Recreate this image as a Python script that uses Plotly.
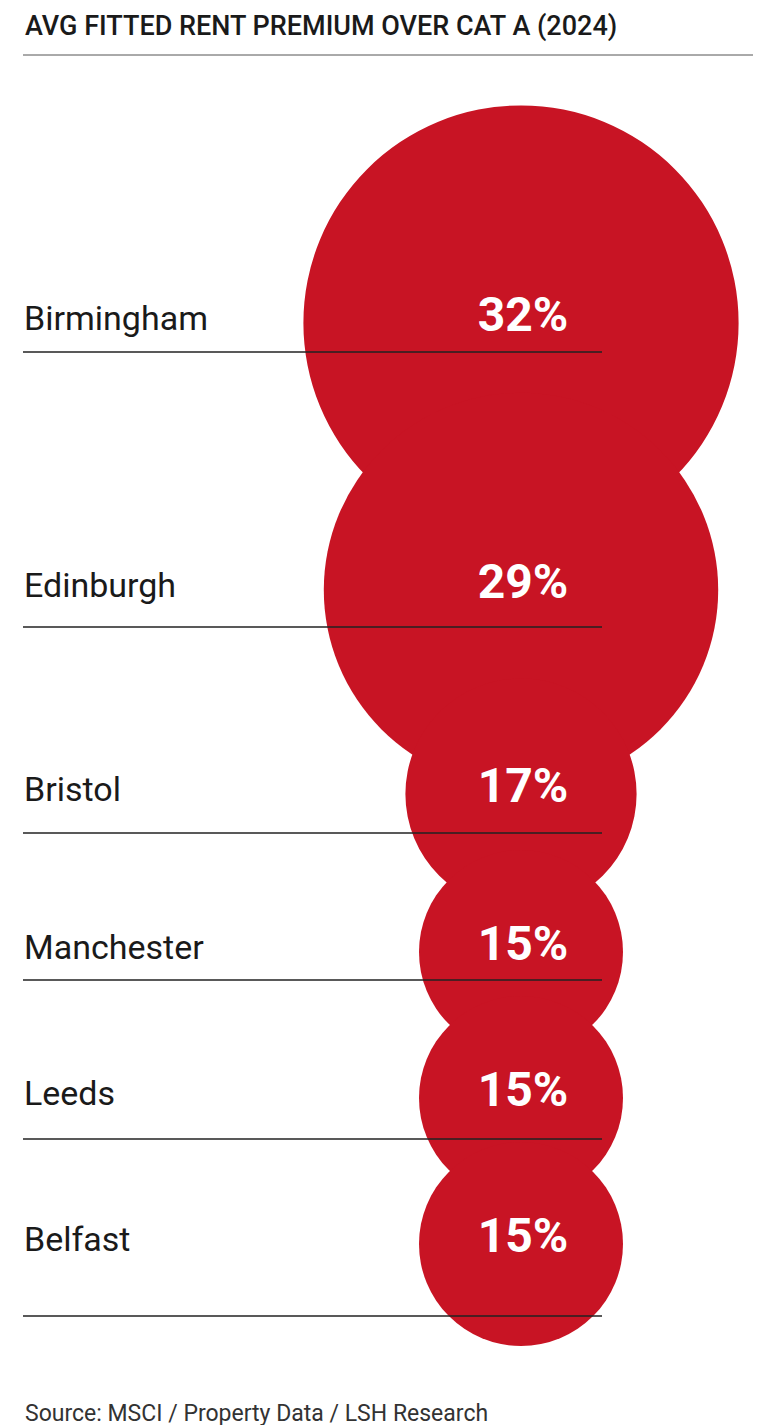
import plotly.graph_objects as go

cities = ["Birmingham", "Edinburgh", "Bristol", "Manchester", "Leeds", "Belfast"]
premium = [32, 29, 17, 15, 15, 15]
labels = ["32%", "29%", "17%", "15%", "15%", "15%"]

W, H = 761, 1425
cx = 513
centers = [315, 582, 786, 944, 1090, 1236]
line_y = [344, 619, 825, 972, 1131, 1308]
k = 6.8
red = "#C81424"

fig = go.Figure()
shapes = []
for v, cy in zip(premium, centers):
    r = v * k
    shapes.append(dict(type="circle", xref="x", yref="y", x0=cx - r, x1=cx + r,
                       y0=cy - r, y1=cy + r, fillcolor=red, line_width=0, layer="below"))
for ly in line_y:
    shapes.append(dict(type="line", xref="x", yref="y", x0=15, x1=594, y0=ly, y1=ly,
                       line=dict(color="#222", width=1.5), layer="above"))
shapes.append(dict(type="line", xref="x", yref="y", x0=15, x1=752, y0=47, y1=47,
                   line=dict(color="#555", width=1)))

fig.add_trace(go.Scatter(x=[16] * len(cities), y=[c - 2 for c in centers], mode="text",
                         text=cities, textposition="middle right",
                         textfont=dict(family="Roboto", size=34, color="#1a1a1a"),
                         hoverinfo="skip"))
fig.add_trace(go.Scatter(x=[cx + 2] * len(cities), y=[c - 4 for c in centers], mode="text",
                         text=labels, textposition="middle center",
                         textfont=dict(family="Roboto", size=48, color="white", weight="bold"),
                         hoverinfo="skip"))

fig.add_annotation(x=15, y=18, xref="x", yref="y", text="AVG FITTED RENT PREMIUM OVER CAT A (2024)",
                   showarrow=False, xanchor="left", yanchor="middle",
                   font=dict(family="Roboto", size=27, color="#1a1a1a", weight=500))
fig.add_annotation(x=15, y=1405, xref="x", yref="y", text="Source: MSCI / Property Data / LSH Research",
                   showarrow=False, xanchor="left", yanchor="middle",
                   font=dict(family="Roboto", size=23, color="#333"))

fig.update_layout(width=W, height=H, margin=dict(l=0, r=0, t=0, b=0),
                  paper_bgcolor="white", plot_bgcolor="white", showlegend=False,
                  shapes=shapes,
                  xaxis=dict(range=[0, W], visible=False, fixedrange=True),
                  yaxis=dict(range=[H, 0], visible=False, fixedrange=True))
fig.write_html("out.html")
